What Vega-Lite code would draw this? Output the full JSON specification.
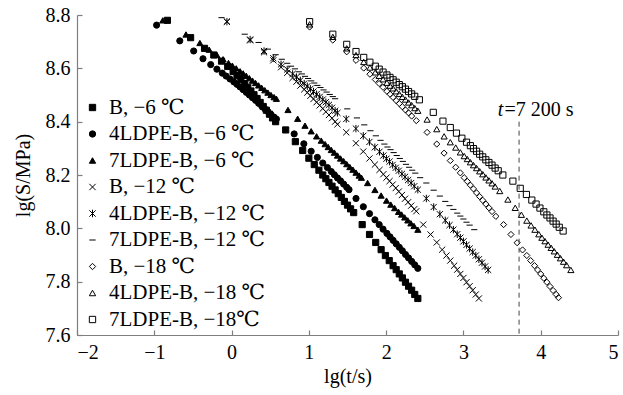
{
"$schema": "https://vega.github.io/schema/vega-lite/v6.json",
"width": 541, "height": 320,
"autosize": {"type": "none"},
"padding": {"left": 77, "top": 15, "right": 5, "bottom": 60},
"background": "white",
"config": {
  "view": {"stroke": null},
  "font": "Liberation Serif, Times New Roman, DejaVu Serif, serif",
  "axis": {"labelFont": "Liberation Serif, Times New Roman, DejaVu Serif, serif", "titleFont": "Liberation Serif, Times New Roman, DejaVu Serif, serif", "labelFontSize": 20, "titleFontSize": 20, "titleFontWeight": "normal", "labelColor": "black", "titleColor": "black", "domainColor": "#7f7f7f", "tickColor": "#7f7f7f", "tickSize": -5, "grid": false, "domainWidth": 1.2, "tickWidth": 1.2},
  "legend": {"labelFont": "Liberation Serif, Times New Roman, DejaVu Serif, serif"},
  "text": {"font": "Liberation Serif, Times New Roman, DejaVu Serif, serif"}
},
"datasets": {
  "names": [
    {"s": 1, "name": "B, −6 ℃"}, {"s": 2, "name": "4LDPE-B, −6 ℃"}, {"s": 3, "name": "7LDPE-B, −6 ℃"},
    {"s": 4, "name": "B, −12 ℃"}, {"s": 5, "name": "4LDPE-B, −12 ℃"}, {"s": 6, "name": "7LDPE-B, −12 ℃"},
    {"s": 7, "name": "B, −18 ℃"}, {"s": 8, "name": "4LDPE-B, −18 ℃"}, {"s": 9, "name": "7LDPE-B, −18℃"}
  ],
  "pts": [
{"s":1,"x":-0.83,"y":8.78},{"s":1,"x":-0.53,"y":8.715},{"s":1,"x":-0.35,"y":8.675},{"s":1,"x":-0.23,"y":8.65},{"s":1,"x":-0.13,"y":8.627},{"s":1,"x":-0.05,"y":8.607},{"s":1,"x":0.02,"y":8.588},{"s":1,"x":0.07,"y":8.573},{"s":1,"x":0.12,"y":8.558},{"s":1,"x":0.17,"y":8.543},{"s":1,"x":0.21,"y":8.529},{"s":1,"x":0.25,"y":8.515},{"s":1,"x":0.29,"y":8.501},{"s":1,"x":0.33,"y":8.487},{"s":1,"x":0.37,"y":8.472},{"s":1,"x":0.41,"y":8.457},{"s":1,"x":0.45,"y":8.443},{"s":1,"x":0.49,"y":8.428},{"s":1,"x":0.53,"y":8.414},{"s":1,"x":0.57,"y":8.40},
{"s":1,"x":0.70,"y":8.369},{"s":1,"x":0.825,"y":8.325},{"s":1,"x":0.92,"y":8.292},{"s":1,"x":1.00,"y":8.263},{"s":1,"x":1.07,"y":8.239},{"s":1,"x":1.13,"y":8.218},{"s":1,"x":1.18,"y":8.200},{"s":1,"x":1.22,"y":8.186},{"s":1,"x":1.26,"y":8.172},{"s":1,"x":1.30,"y":8.158},{"s":1,"x":1.34,"y":8.144},{"s":1,"x":1.38,"y":8.130},{"s":1,"x":1.42,"y":8.116},{"s":1,"x":1.46,"y":8.101},{"s":1,"x":1.50,"y":8.087},{"s":1,"x":1.54,"y":8.073},{"s":1,"x":1.58,"y":8.059},
{"s":1,"x":1.69,"y":8.014},{"s":1,"x":1.785,"y":7.977},{"s":1,"x":1.865,"y":7.947},{"s":1,"x":1.935,"y":7.92},{"s":1,"x":1.99,"y":7.898},{"s":1,"x":2.04,"y":7.879},{"s":1,"x":2.09,"y":7.86},{"s":1,"x":2.13,"y":7.845},{"s":1,"x":2.17,"y":7.829},{"s":1,"x":2.21,"y":7.814},{"s":1,"x":2.25,"y":7.798},{"s":1,"x":2.29,"y":7.783},{"s":1,"x":2.33,"y":7.768},{"s":1,"x":2.37,"y":7.752},{"s":1,"x":2.41,"y":7.737},
{"s":2,"x":-0.97,"y":8.762},{"s":2,"x":-0.67,"y":8.703},{"s":2,"x":-0.49,"y":8.665},{"s":2,"x":-0.37,"y":8.636},{"s":2,"x":-0.27,"y":8.614},{"s":2,"x":-0.19,"y":8.597},{"s":2,"x":-0.12,"y":8.582},{"s":2,"x":-0.07,"y":8.571},{"s":2,"x":-0.02,"y":8.56},{"s":2,"x":0.03,"y":8.549},{"s":2,"x":0.07,"y":8.54},{"s":2,"x":0.11,"y":8.53},{"s":2,"x":0.15,"y":8.52},{"s":2,"x":0.19,"y":8.51},{"s":2,"x":0.23,"y":8.5},{"s":2,"x":0.27,"y":8.49},{"s":2,"x":0.31,"y":8.48},{"s":2,"x":0.35,"y":8.469},{"s":2,"x":0.39,"y":8.459},{"s":2,"x":0.43,"y":8.448},{"s":2,"x":0.47,"y":8.438},{"s":2,"x":0.51,"y":8.427},{"s":2,"x":0.55,"y":8.417},{"s":2,"x":0.58,"y":8.41},
{"s":2,"x":0.81,"y":8.354},{"s":2,"x":0.935,"y":8.317},{"s":2,"x":1.03,"y":8.289},{"s":2,"x":1.11,"y":8.266},{"s":2,"x":1.18,"y":8.245},{"s":2,"x":1.24,"y":8.228},{"s":2,"x":1.29,"y":8.213},{"s":2,"x":1.33,"y":8.201},{"s":2,"x":1.37,"y":8.189},{"s":2,"x":1.41,"y":8.178},{"s":2,"x":1.45,"y":8.166},{"s":2,"x":1.49,"y":8.154},{"s":2,"x":1.52,"y":8.145},
{"s":2,"x":1.61,"y":8.112},{"s":2,"x":1.705,"y":8.081},{"s":2,"x":1.785,"y":8.055},{"s":2,"x":1.855,"y":8.032},{"s":2,"x":1.91,"y":8.014},{"s":2,"x":1.96,"y":7.997},{"s":2,"x":2.01,"y":7.981},{"s":2,"x":2.05,"y":7.968},{"s":2,"x":2.09,"y":7.955},{"s":2,"x":2.13,"y":7.942},{"s":2,"x":2.17,"y":7.929},{"s":2,"x":2.21,"y":7.916},{"s":2,"x":2.25,"y":7.902},{"s":2,"x":2.29,"y":7.889},{"s":2,"x":2.33,"y":7.876},{"s":2,"x":2.37,"y":7.863},{"s":2,"x":2.41,"y":7.85},
{"s":3,"x":-0.89,"y":8.78},{"s":3,"x":-0.59,"y":8.727},{"s":3,"x":-0.41,"y":8.695},{"s":3,"x":-0.29,"y":8.67},{"s":3,"x":-0.19,"y":8.65},{"s":3,"x":-0.11,"y":8.634},{"s":3,"x":-0.04,"y":8.62},{"s":3,"x":0.01,"y":8.61},{"s":3,"x":0.06,"y":8.6},{"s":3,"x":0.11,"y":8.589},{"s":3,"x":0.15,"y":8.581},{"s":3,"x":0.19,"y":8.572},{"s":3,"x":0.23,"y":8.563},{"s":3,"x":0.27,"y":8.554},{"s":3,"x":0.31,"y":8.545},{"s":3,"x":0.35,"y":8.536},{"s":3,"x":0.39,"y":8.527},{"s":3,"x":0.43,"y":8.518},{"s":3,"x":0.47,"y":8.509},{"s":3,"x":0.51,"y":8.5},{"s":3,"x":0.55,"y":8.492},{"s":3,"x":0.58,"y":8.486},
{"s":3,"x":0.73,"y":8.444},{"s":3,"x":0.855,"y":8.411},{"s":3,"x":0.95,"y":8.385},{"s":3,"x":1.03,"y":8.364},{"s":3,"x":1.10,"y":8.345},{"s":3,"x":1.16,"y":8.329},{"s":3,"x":1.21,"y":8.316},{"s":3,"x":1.25,"y":8.305},{"s":3,"x":1.29,"y":8.294},{"s":3,"x":1.33,"y":8.284},{"s":3,"x":1.37,"y":8.273},{"s":3,"x":1.41,"y":8.262},{"s":3,"x":1.45,"y":8.252},{"s":3,"x":1.49,"y":8.241},{"s":3,"x":1.53,"y":8.23},{"s":3,"x":1.57,"y":8.22},{"s":3,"x":1.61,"y":8.209},{"s":3,"x":1.65,"y":8.198},{"s":3,"x":1.68,"y":8.19},
{"s":3,"x":1.76,"y":8.17},{"s":3,"x":1.855,"y":8.144},{"s":3,"x":1.935,"y":8.123},{"s":3,"x":2.005,"y":8.104},{"s":3,"x":2.06,"y":8.089},{"s":3,"x":2.11,"y":8.076},{"s":3,"x":2.16,"y":8.062},{"s":3,"x":2.2,"y":8.052},{"s":3,"x":2.24,"y":8.041},{"s":3,"x":2.28,"y":8.03},{"s":3,"x":2.32,"y":8.019},{"s":3,"x":2.36,"y":8.009},{"s":3,"x":2.41,"y":7.995},
{"s":4,"x":-0.06,"y":8.775},{"s":4,"x":0.24,"y":8.705},{"s":4,"x":0.42,"y":8.66},{"s":4,"x":0.54,"y":8.63},{"s":4,"x":0.64,"y":8.604},{"s":4,"x":0.72,"y":8.583},{"s":4,"x":0.79,"y":8.564},{"s":4,"x":0.84,"y":8.55},{"s":4,"x":0.89,"y":8.535},{"s":4,"x":0.94,"y":8.521},{"s":4,"x":0.98,"y":8.509},{"s":4,"x":1.02,"y":8.497},{"s":4,"x":1.06,"y":8.485},{"s":4,"x":1.10,"y":8.473},{"s":4,"x":1.14,"y":8.461},{"s":4,"x":1.18,"y":8.449},{"s":4,"x":1.22,"y":8.437},{"s":4,"x":1.26,"y":8.425},{"s":4,"x":1.30,"y":8.413},{"s":4,"x":1.34,"y":8.40},{"s":4,"x":1.37,"y":8.39},
{"s":4,"x":1.484,"y":8.36},{"s":4,"x":1.609,"y":8.319},{"s":4,"x":1.704,"y":8.288},{"s":4,"x":1.784,"y":8.262},{"s":4,"x":1.854,"y":8.239},{"s":4,"x":1.914,"y":8.219},{"s":4,"x":1.964,"y":8.203},{"s":4,"x":2.004,"y":8.19},{"s":4,"x":2.044,"y":8.177},{"s":4,"x":2.084,"y":8.164},{"s":4,"x":2.124,"y":8.151},{"s":4,"x":2.164,"y":8.138},{"s":4,"x":2.204,"y":8.125},{"s":4,"x":2.244,"y":8.111},{"s":4,"x":2.284,"y":8.098},{"s":4,"x":2.324,"y":8.085},{"s":4,"x":2.364,"y":8.072},{"s":4,"x":2.39,"y":8.064},
{"s":4,"x":2.48,"y":8.014},{"s":4,"x":2.575,"y":7.977},{"s":4,"x":2.655,"y":7.947},{"s":4,"x":2.725,"y":7.92},{"s":4,"x":2.78,"y":7.898},{"s":4,"x":2.83,"y":7.879},{"s":4,"x":2.88,"y":7.86},{"s":4,"x":2.92,"y":7.845},{"s":4,"x":2.96,"y":7.829},{"s":4,"x":3.0,"y":7.814},{"s":4,"x":3.04,"y":7.798},{"s":4,"x":3.08,"y":7.783},{"s":4,"x":3.12,"y":7.768},{"s":4,"x":3.16,"y":7.752},{"s":4,"x":3.2,"y":7.737},
{"s":5,"x":-0.06,"y":8.775},{"s":5,"x":0.24,"y":8.708},{"s":5,"x":0.42,"y":8.665},{"s":5,"x":0.54,"y":8.638},{"s":5,"x":0.64,"y":8.615},{"s":5,"x":0.72,"y":8.596},{"s":5,"x":0.79,"y":8.579},{"s":5,"x":0.84,"y":8.567},{"s":5,"x":0.89,"y":8.555},{"s":5,"x":0.94,"y":8.543},{"s":5,"x":0.98,"y":8.533},{"s":5,"x":1.02,"y":8.523},{"s":5,"x":1.06,"y":8.513},{"s":5,"x":1.10,"y":8.503},{"s":5,"x":1.14,"y":8.493},{"s":5,"x":1.18,"y":8.483},{"s":5,"x":1.22,"y":8.473},{"s":5,"x":1.26,"y":8.463},{"s":5,"x":1.30,"y":8.452},{"s":5,"x":1.34,"y":8.441},{"s":5,"x":1.37,"y":8.433},
{"s":5,"x":1.484,"y":8.41},{"s":5,"x":1.609,"y":8.374},{"s":5,"x":1.704,"y":8.347},{"s":5,"x":1.784,"y":8.324},{"s":5,"x":1.854,"y":8.304},{"s":5,"x":1.914,"y":8.287},{"s":5,"x":1.964,"y":8.273},{"s":5,"x":2.004,"y":8.261},{"s":5,"x":2.044,"y":8.25},{"s":5,"x":2.084,"y":8.238},{"s":5,"x":2.124,"y":8.227},{"s":5,"x":2.164,"y":8.216},{"s":5,"x":2.204,"y":8.204},{"s":5,"x":2.244,"y":8.193},{"s":5,"x":2.284,"y":8.181},{"s":5,"x":2.324,"y":8.17},{"s":5,"x":2.364,"y":8.158},{"s":5,"x":2.41,"y":8.145},
{"s":5,"x":2.52,"y":8.112},{"s":5,"x":2.615,"y":8.08},{"s":5,"x":2.695,"y":8.053},{"s":5,"x":2.765,"y":8.03},{"s":5,"x":2.82,"y":8.012},{"s":5,"x":2.87,"y":7.995},{"s":5,"x":2.92,"y":7.978},{"s":5,"x":2.96,"y":7.965},{"s":5,"x":3.0,"y":7.951},{"s":5,"x":3.04,"y":7.938},{"s":5,"x":3.08,"y":7.924},{"s":5,"x":3.12,"y":7.911},{"s":5,"x":3.16,"y":7.898},{"s":5,"x":3.2,"y":7.884},{"s":5,"x":3.24,"y":7.871},{"s":5,"x":3.28,"y":7.857},{"s":5,"x":3.32,"y":7.844},
{"s":6,"x":-0.13,"y":8.79},{"s":6,"x":0.17,"y":8.728},{"s":6,"x":0.35,"y":8.697},{"s":6,"x":0.47,"y":8.672},{"s":6,"x":0.57,"y":8.651},{"s":6,"x":0.65,"y":8.634},{"s":6,"x":0.72,"y":8.619},{"s":6,"x":0.77,"y":8.608},{"s":6,"x":0.82,"y":8.598},{"s":6,"x":0.87,"y":8.587},{"s":6,"x":0.91,"y":8.579},{"s":6,"x":0.95,"y":8.57},{"s":6,"x":0.99,"y":8.562},{"s":6,"x":1.03,"y":8.553},{"s":6,"x":1.07,"y":8.545},{"s":6,"x":1.11,"y":8.536},{"s":6,"x":1.15,"y":8.528},{"s":6,"x":1.19,"y":8.519},{"s":6,"x":1.23,"y":8.511},{"s":6,"x":1.27,"y":8.502},{"s":6,"x":1.31,"y":8.494},{"s":6,"x":1.34,"y":8.486},
{"s":6,"x":1.497,"y":8.448},{"s":6,"x":1.622,"y":8.414},{"s":6,"x":1.717,"y":8.388},{"s":6,"x":1.797,"y":8.366},{"s":6,"x":1.867,"y":8.347},{"s":6,"x":1.927,"y":8.33},{"s":6,"x":1.977,"y":8.316},{"s":6,"x":2.017,"y":8.305},{"s":6,"x":2.057,"y":8.295},{"s":6,"x":2.097,"y":8.284},{"s":6,"x":2.137,"y":8.273},{"s":6,"x":2.177,"y":8.262},{"s":6,"x":2.217,"y":8.251},{"s":6,"x":2.257,"y":8.24},{"s":6,"x":2.297,"y":8.229},{"s":6,"x":2.337,"y":8.218},{"s":6,"x":2.377,"y":8.207},{"s":6,"x":2.44,"y":8.19},
{"s":6,"x":2.52,"y":8.17},{"s":6,"x":2.615,"y":8.143},{"s":6,"x":2.695,"y":8.121},{"s":6,"x":2.765,"y":8.101},{"s":6,"x":2.82,"y":8.085},{"s":6,"x":2.87,"y":8.071},{"s":6,"x":2.92,"y":8.057},{"s":6,"x":2.96,"y":8.046},{"s":6,"x":3.0,"y":8.035},{"s":6,"x":3.04,"y":8.023},{"s":6,"x":3.08,"y":8.012},{"s":6,"x":3.14,"y":7.995},
{"s":7,"x":1.01,"y":8.755},{"s":7,"x":1.31,"y":8.706},{"s":7,"x":1.49,"y":8.662},{"s":7,"x":1.61,"y":8.63},{"s":7,"x":1.71,"y":8.601},{"s":7,"x":1.79,"y":8.578},{"s":7,"x":1.86,"y":8.558},{"s":7,"x":1.91,"y":8.543},{"s":7,"x":1.96,"y":8.529},{"s":7,"x":2.01,"y":8.514},{"s":7,"x":2.05,"y":8.503},{"s":7,"x":2.09,"y":8.491},{"s":7,"x":2.13,"y":8.479},{"s":7,"x":2.17,"y":8.468},{"s":7,"x":2.21,"y":8.456},{"s":7,"x":2.25,"y":8.444},{"s":7,"x":2.29,"y":8.433},{"s":7,"x":2.33,"y":8.421},{"s":7,"x":2.39,"y":8.404},
{"s":7,"x":2.53,"y":8.36},{"s":7,"x":2.655,"y":8.316},{"s":7,"x":2.75,"y":8.282},{"s":7,"x":2.83,"y":8.254},{"s":7,"x":2.9,"y":8.229},{"s":7,"x":2.96,"y":8.208},{"s":7,"x":3.01,"y":8.19},{"s":7,"x":3.05,"y":8.176},{"s":7,"x":3.09,"y":8.162},{"s":7,"x":3.13,"y":8.148},{"s":7,"x":3.17,"y":8.133},{"s":7,"x":3.21,"y":8.119},{"s":7,"x":3.25,"y":8.105},{"s":7,"x":3.29,"y":8.091},{"s":7,"x":3.33,"y":8.077},{"s":7,"x":3.37,"y":8.063},{"s":7,"x":3.42,"y":8.045},
{"s":7,"x":3.52,"y":8.014},{"s":7,"x":3.615,"y":7.977},{"s":7,"x":3.695,"y":7.946},{"s":7,"x":3.765,"y":7.919},{"s":7,"x":3.82,"y":7.898},{"s":7,"x":3.87,"y":7.879},{"s":7,"x":3.92,"y":7.86},{"s":7,"x":3.96,"y":7.844},{"s":7,"x":4.0,"y":7.829},{"s":7,"x":4.04,"y":7.813},{"s":7,"x":4.08,"y":7.798},{"s":7,"x":4.12,"y":7.782},{"s":7,"x":4.16,"y":7.767},{"s":7,"x":4.2,"y":7.752},{"s":7,"x":4.23,"y":7.74},
{"s":8,"x":1.01,"y":8.765},{"s":8,"x":1.31,"y":8.718},{"s":8,"x":1.49,"y":8.675},{"s":8,"x":1.61,"y":8.65},{"s":8,"x":1.71,"y":8.624},{"s":8,"x":1.79,"y":8.603},{"s":8,"x":1.86,"y":8.585},{"s":8,"x":1.91,"y":8.572},{"s":8,"x":1.96,"y":8.559},{"s":8,"x":2.01,"y":8.546},{"s":8,"x":2.05,"y":8.535},{"s":8,"x":2.09,"y":8.525},{"s":8,"x":2.13,"y":8.514},{"s":8,"x":2.17,"y":8.504},{"s":8,"x":2.21,"y":8.493},{"s":8,"x":2.25,"y":8.483},{"s":8,"x":2.29,"y":8.472},{"s":8,"x":2.33,"y":8.462},{"s":8,"x":2.37,"y":8.451},{"s":8,"x":2.41,"y":8.441},
{"s":8,"x":2.53,"y":8.408},{"s":8,"x":2.655,"y":8.372},{"s":8,"x":2.75,"y":8.345},{"s":8,"x":2.83,"y":8.323},{"s":8,"x":2.9,"y":8.303},{"s":8,"x":2.96,"y":8.285},{"s":8,"x":3.01,"y":8.271},{"s":8,"x":3.05,"y":8.26},{"s":8,"x":3.09,"y":8.248},{"s":8,"x":3.13,"y":8.237},{"s":8,"x":3.17,"y":8.226},{"s":8,"x":3.21,"y":8.214},{"s":8,"x":3.25,"y":8.203},{"s":8,"x":3.29,"y":8.191},{"s":8,"x":3.33,"y":8.18},{"s":8,"x":3.37,"y":8.169},{"s":8,"x":3.41,"y":8.157},{"s":8,"x":3.47,"y":8.14},
{"s":8,"x":3.575,"y":8.108},{"s":8,"x":3.67,"y":8.077},{"s":8,"x":3.75,"y":8.051},{"s":8,"x":3.82,"y":8.029},{"s":8,"x":3.875,"y":8.011},{"s":8,"x":3.925,"y":7.995},{"s":8,"x":3.975,"y":7.978},{"s":8,"x":4.015,"y":7.965},{"s":8,"x":4.055,"y":7.952},{"s":8,"x":4.095,"y":7.939},{"s":8,"x":4.135,"y":7.927},{"s":8,"x":4.175,"y":7.914},{"s":8,"x":4.215,"y":7.901},{"s":8,"x":4.255,"y":7.888},{"s":8,"x":4.295,"y":7.875},{"s":8,"x":4.335,"y":7.862},{"s":8,"x":4.39,"y":7.844},
{"s":9,"x":1.01,"y":8.775},{"s":9,"x":1.31,"y":8.728},{"s":9,"x":1.49,"y":8.69},{"s":9,"x":1.61,"y":8.663},{"s":9,"x":1.71,"y":8.641},{"s":9,"x":1.79,"y":8.623},{"s":9,"x":1.86,"y":8.608},{"s":9,"x":1.91,"y":8.597},{"s":9,"x":1.96,"y":8.586},{"s":9,"x":2.01,"y":8.575},{"s":9,"x":2.05,"y":8.566},{"s":9,"x":2.09,"y":8.557},{"s":9,"x":2.13,"y":8.548},{"s":9,"x":2.17,"y":8.539},{"s":9,"x":2.21,"y":8.531},{"s":9,"x":2.25,"y":8.522},{"s":9,"x":2.29,"y":8.513},{"s":9,"x":2.33,"y":8.504},{"s":9,"x":2.37,"y":8.495},{"s":9,"x":2.43,"y":8.482},
{"s":9,"x":2.61,"y":8.435},{"s":9,"x":2.735,"y":8.402},{"s":9,"x":2.83,"y":8.378},{"s":9,"x":2.91,"y":8.357},{"s":9,"x":2.98,"y":8.338},{"s":9,"x":3.04,"y":8.323},{"s":9,"x":3.09,"y":8.31},{"s":9,"x":3.13,"y":8.299},{"s":9,"x":3.17,"y":8.289},{"s":9,"x":3.21,"y":8.278},{"s":9,"x":3.25,"y":8.268},{"s":9,"x":3.29,"y":8.257},{"s":9,"x":3.33,"y":8.247},{"s":9,"x":3.37,"y":8.237},{"s":9,"x":3.41,"y":8.226},{"s":9,"x":3.45,"y":8.216},{"s":9,"x":3.51,"y":8.2},
{"s":9,"x":3.64,"y":8.177},{"s":9,"x":3.735,"y":8.15},{"s":9,"x":3.815,"y":8.127},{"s":9,"x":3.885,"y":8.106},{"s":9,"x":3.94,"y":8.091},{"s":9,"x":3.99,"y":8.076},{"s":9,"x":4.04,"y":8.062},{"s":9,"x":4.08,"y":8.05},{"s":9,"x":4.12,"y":8.039},{"s":9,"x":4.16,"y":8.027},{"s":9,"x":4.2,"y":8.016},{"s":9,"x":4.24,"y":8.004},{"s":9,"x":4.29,"y":7.99}
  ]
},
"encoding": {
  "x": {"field": "x", "type": "quantitative", "scale": {"domain": [-2, 5], "nice": false, "zero": false},
        "axis": {"title": "lg(t/s)", "values": [-2, -1, 0, 1, 2, 3, 4, 5], "format": "d", "labelPadding": 12, "titlePadding": 4}},
  "y": {"field": "y", "type": "quantitative", "scale": {"domain": [7.6, 8.8], "nice": false, "zero": false},
        "axis": {"title": "lg(S/MPa)", "values": [7.6, 7.8, 8.0, 8.2, 8.4, 8.6, 8.8], "format": ".1f", "labelPadding": 12, "titlePadding": 12}}
},
"layer": [
  {
    "data": {"name": "pts"},
    "transform": [{"lookup": "s", "from": {"data": {"name": "names"}, "key": "s", "fields": ["name"]}}],
    "mark": {"type": "point", "filled": true, "strokeWidth": 1, "size": 38, "opacity": 1},
    "encoding": {
      "shape": {"field": "name", "type": "nominal",
        "scale": {"domain": ["B, −6 ℃", "4LDPE-B, −6 ℃", "7LDPE-B, −6 ℃", "B, −12 ℃", "4LDPE-B, −12 ℃", "7LDPE-B, −12 ℃", "B, −18 ℃", "4LDPE-B, −18 ℃", "7LDPE-B, −18℃"],
                  "range": ["square", "circle", "triangle-up", "M-1,-1L1,1M-1,1L1,-1", "M-1,-1L1,1M-1,1L1,-1M0,-1.2L0,1.2", "M-1,0L1,0", "diamond", "triangle-up", "square"]},
        "legend": {"title": null, "orient": "none", "legendX": 5, "legendY": 82, "labelFont": "Liberation Serif, Times New Roman, DejaVu Serif, serif", "labelFontSize": 21, "labelColor": "black", "symbolSize": 40, "symbolStrokeWidth": 1, "rowPadding": 4.5, "labelOffset": 6, "labelLimit": 400, "padding": 0}},
      "fill": {"field": "name", "type": "nominal",
        "scale": {"domain": ["B, −6 ℃", "4LDPE-B, −6 ℃", "7LDPE-B, −6 ℃", "B, −12 ℃", "4LDPE-B, −12 ℃", "7LDPE-B, −12 ℃", "B, −18 ℃", "4LDPE-B, −18 ℃", "7LDPE-B, −18℃"],
                  "range": ["black", "black", "black", "transparent", "transparent", "transparent", "transparent", "transparent", "transparent"]},
        "legend": {"title": null, "orient": "none", "legendX": 5, "legendY": 82, "labelFont": "Liberation Serif, Times New Roman, DejaVu Serif, serif", "labelFontSize": 21, "labelColor": "black", "symbolSize": 40, "symbolStrokeWidth": 1, "rowPadding": 4.5, "labelOffset": 6, "labelLimit": 400, "padding": 0}},
      "stroke": {"field": "name", "type": "nominal",
        "scale": {"domain": ["B, −6 ℃", "4LDPE-B, −6 ℃", "7LDPE-B, −6 ℃", "B, −12 ℃", "4LDPE-B, −12 ℃", "7LDPE-B, −12 ℃", "B, −18 ℃", "4LDPE-B, −18 ℃", "7LDPE-B, −18℃"],
                  "range": ["black", "black", "black", "black", "black", "black", "black", "black", "black"]},
        "legend": {"title": null, "orient": "none", "legendX": 5, "legendY": 82, "labelFont": "Liberation Serif, Times New Roman, DejaVu Serif, serif", "labelFontSize": 21, "labelColor": "black", "symbolSize": 40, "symbolStrokeWidth": 1, "rowPadding": 4.5, "labelOffset": 6, "labelLimit": 400, "padding": 0}}
    }
  },
  {
    "data": {"values": [{"x": 3.72, "y": 8.4, "y2": 7.6}]},
    "mark": {"type": "rule", "strokeDash": [5, 4], "color": "#444444", "strokeWidth": 1},
    "encoding": {"y2": {"field": "y2"}}
  },
  {
    "data": {"values": [{"x": 3.515, "y": 8.423, "label": "t"}]},
    "mark": {"type": "text", "align": "right", "baseline": "alphabetic", "fontStyle": "italic", "fontSize": 20, "font": "Liberation Serif, Times New Roman, DejaVu Serif, serif", "color": "black"},
    "encoding": {"text": {"field": "label"}}
  },
  {
    "data": {"values": [{"x": 3.53, "y": 8.423, "label": "=7 200 s"}]},
    "mark": {"type": "text", "align": "left", "baseline": "alphabetic", "fontSize": 20, "font": "Liberation Serif, Times New Roman, DejaVu Serif, serif", "color": "black"},
    "encoding": {"text": {"field": "label"}}
  }
]
}
